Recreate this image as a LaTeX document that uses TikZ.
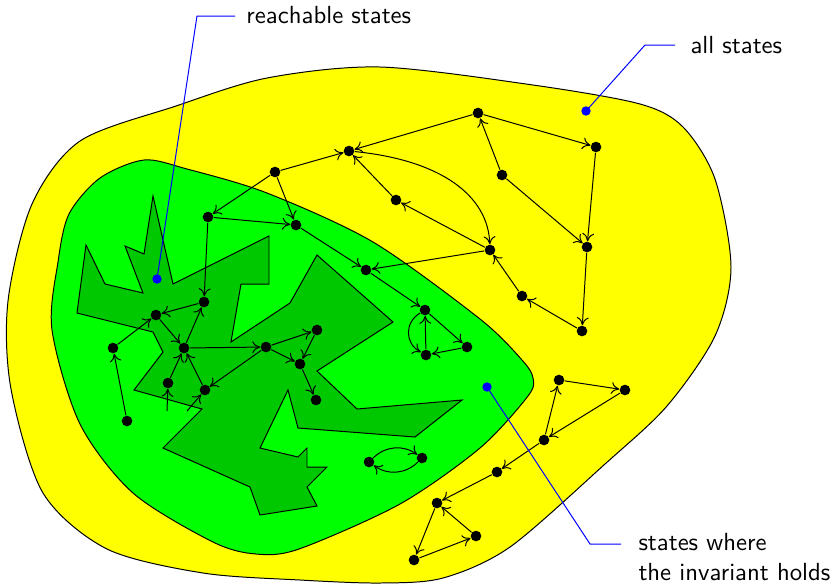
\documentclass[tikz,border=0pt]{standalone}
\usepackage{tikz}
\usetikzlibrary{arrows.meta}
\definecolor{yel}{RGB}{255,255,0}
\definecolor{lgreen}{RGB}{0,255,0}
\definecolor{dgreen}{RGB}{0,200,0}
\renewcommand{\familydefault}{\sfdefault}

\begin{document}
\begin{tikzpicture}[x=0.142mm, y=-0.142mm, >={To[length=3.2pt,width=4.8pt]},
    sdot/.style={circle, fill=black, inner sep=0pt, minimum size=4.3pt},
    bdot/.style={circle, fill=blue, inner sep=0pt, minimum size=3.8pt},
    lbl/.style={inner sep=0pt, font=\sffamily}]
    \useasboundingbox (0,0) rectangle (832,584);

    % 全部状态
    \draw[fill=yel] plot[smooth cycle] coordinates {(380,67) (533,85) (640,104) (683,127)
        (715,179) (731,267) (715,336) (667,406) (605,464) (510,547) (443,578) (380,583)
        (300,580) (203,573) (107,549) (43,493) (11,389) (8,301) (32,204) (80,141)
        (176,106) (267,78)};

    % 不变式成立的状态
    \draw[fill=lgreen] plot[smooth cycle] coordinates {(144,160) (187,169) (267,193)
        (373,242) (480,319) (522,360) (533,378) (528,396) (480,448) (400,504) (299,549)
        (256,554) (213,542) (133,493) (80,424) (52,330) (58,262) (69,214) (100,178)};

    % 可达状态
    \draw[fill=dgreen] (86,245) -- (105,284) -- (143,293) -- (125,246) -- (144,254)
        -- (153,196) -- (173,284) -- (269,236) -- (269,284) -- (241,284) -- (231,342)
        -- (290,303) -- (317,255) -- (393,322) -- (317,371) -- (357,409) -- (462,400)
        -- (415,437) -- (298,428) -- (288,390) -- (260,448) -- (298,457) -- (307,448)
        -- (307,467) -- (327,467) -- (307,487) -- (317,506) -- (260,515) -- (250,487)
        -- (163,448) -- (202,409) -- (134,390) -- (163,352) -- (153,332) -- (77,313)
        -- cycle;

    % 状态
    \foreach \n/\x/\y in {S1/478/113, S2/349/151, S3/275/172, S4/596/147, S5/502/175,
        S6/396/200, S7/490/250, S8/587/247, S9/522/296, S10/582/331, S11/208/217,
        S12/296/225, S13/366/270, S14/425/310, S15/426/355, S16/467/347, S17/204/302,
        S18/156/315, S19/113/348, S20/184/348, S21/266/347, S22/317/330, S23/300/364,
        S24/316/400, S25/168/383, S26/205/390, S27/127/421, S28/369/462, S29/422/458,
        S30/559/380, S31/625/390, S32/544/440, S33/497/472, S34/437/503, S35/476/536,
        S36/414/560} {
        \node[sdot] (\n) at (\x,\y) {};
    }
    \coordinate (Y0) at (167,411);
    \coordinate (Z0) at (187,411);

    % 迁移
    \foreach \a/\b in {S1/S2, S3/S2, S3/S12, S6/S2, S7/S6, S7/S13, S12/S13, S9/S7,
        S5/S1, S1/S4, S5/S8, S4/S8, S8/S10, S10/S9, S3/S11, S11/S12, S11/S17, S17/S18,
        S13/S14, S14/S16, S16/S15, S15/S14, S18/S20, S20/S17, S19/S18, S27/S19,
        S20/S21, S21/S22, S21/S23, S22/S23, S23/S24, S21/S26, S25/S20, S26/S20,
        S30/S31, S31/S32, S32/S30, S32/S33, S33/S34, S35/S34, S34/S36, S36/S35,
        Y0/S25, Z0/S26} {
        \draw[->] (\a) -- (\b);
    }
    \draw[->] (S2) .. controls (440,160) and (488,195) .. (S7);
    \draw[->] (S14) to[bend right=60, looseness=1.2] (S15);
    \draw[->] (S28) to[bend left=40] (S29);
    \draw[->] (S29) to[bend left=40] (S28);

    % 标注
    \node[bdot] (Breach) at (157,279) {};
    \node[bdot] (Ball) at (586,111) {};
    \node[bdot] (Binv) at (487,387) {};
    \node[lbl, anchor=west] (Lreach) at (246,15.5) {reachable states};
    \node[lbl, anchor=west] (Lall) at (690,45) {all states};
    \node[lbl, anchor=north west, align=left] (Linv) at (638,533) {states where\\the invariant holds};
    \coordinate (Rc) at (197,16);
    \coordinate (Re) at (235,16);
    \coordinate (Ac) at (645,45);
    \coordinate (Ae) at (675,45);
    \coordinate (Ic) at (590,544);
    \coordinate (Ie) at (621,544);
    \draw[blue] (Breach.center) -- (Rc) -- (Re);
    \draw[blue] (Ball.center) -- (Ac) -- (Ae);
    \draw[blue] (Binv.center) -- (Ic) -- (Ie);
\end{tikzpicture}
\end{document}
